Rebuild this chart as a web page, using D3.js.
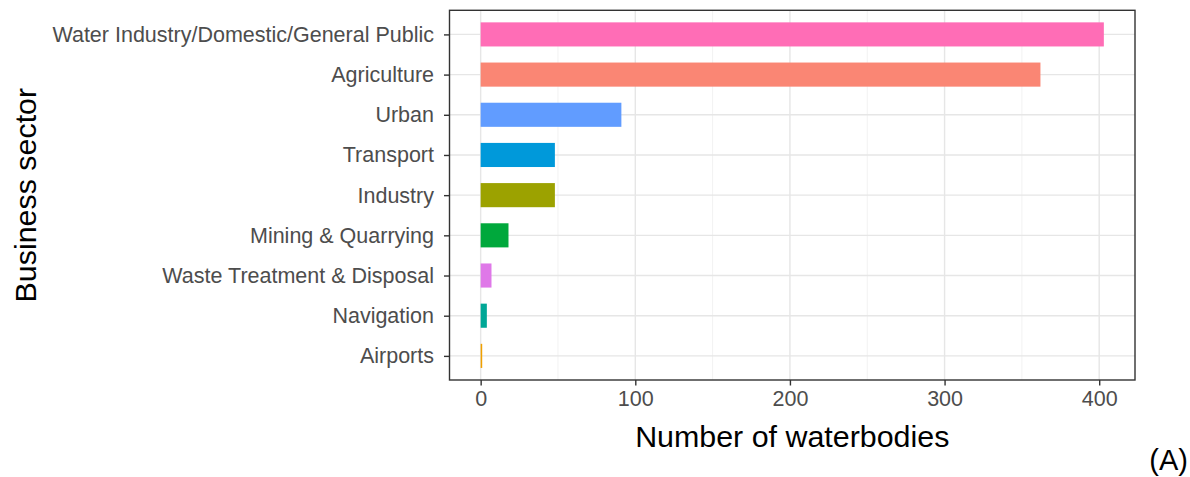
<!DOCTYPE html>
<html>
<head>
<meta charset="utf-8">
<script src="https://cdn.jsdelivr.net/npm/d3@7/dist/d3.min.js"></script>
<style>
  html, body { margin: 0; padding: 0; background: #fff; }
  svg { display: block; font-family: "Liberation Sans", Arial, sans-serif; }
</style>
</head>
<body>
<svg id="chart" width="1190" height="477"></svg>
<script>
// Business sectors, top to bottom
const sectors = [
  "Water Industry/Domestic/General Public",
  "Agriculture",
  "Urban",
  "Transport",
  "Industry",
  "Mining & Quarrying",
  "Waste Treatment & Disposal",
  "Navigation",
  "Airports"
];
// Number of waterbodies per sector
const counts = [403, 362, 91, 48, 48, 18, 7, 4, 1];
// Fill colour per sector
const colours = ["#FF6DB6", "#FA8674", "#619CFF", "#0099DA", "#9CA200", "#00A83C", "#DF78E8", "#00A796", "#F0A000"];
const xTicks = [0, 100, 200, 300, 400];

const svg = d3.select("#chart");
const panel = { left: 449.5, right: 1135, top: 10.3, bottom: 380 };

// Continuous axis padded 5% each side, like ggplot's default expansion
const maxV = d3.max(counts);
const x = d3.scaleLinear()
  .domain([-0.05 * maxV, maxV * 1.05])
  .range([panel.left, panel.right]);

// Discrete axis with 0.6 band padding at the outer ends
const nCat = sectors.length;
const unit = (panel.bottom - panel.top) / (nCat - 1 + 1.2);
const y = d3.scalePoint()
  .domain(sectors)
  .range([panel.top + 0.6 * unit, panel.bottom - 0.6 * unit]);
const barH = 0.6 * unit;

const g = svg.append("g");

// Grid lines: minor then major
const minor = d3.range(50, 450, 100);
g.selectAll(".minor").data(minor).join("line")
  .attr("x1", d => x(d)).attr("x2", d => x(d))
  .attr("y1", panel.top).attr("y2", panel.bottom)
  .attr("stroke", "#EEEEEE").attr("stroke-width", 0.8);
g.selectAll(".majorx").data(xTicks).join("line")
  .attr("x1", d => x(d)).attr("x2", d => x(d))
  .attr("y1", panel.top).attr("y2", panel.bottom)
  .attr("stroke", "#E6E6E6").attr("stroke-width", 1.4);
g.selectAll(".majory").data(sectors).join("line")
  .attr("x1", panel.left).attr("x2", panel.right)
  .attr("y1", d => y(d)).attr("y2", d => y(d))
  .attr("stroke", "#E6E6E6").attr("stroke-width", 1.4);

// Bars
g.selectAll(".bar").data(sectors).join("rect")
  .attr("x", x(0))
  .attr("y", d => y(d) - barH / 2)
  .attr("width", (d, i) => Math.max(1.2, x(counts[i]) - x(0)))
  .attr("height", barH)
  .attr("fill", (d, i) => colours[i]);

// Panel border
g.append("rect")
  .attr("x", panel.left).attr("y", panel.top)
  .attr("width", panel.right - panel.left).attr("height", panel.bottom - panel.top)
  .attr("fill", "none").attr("stroke", "#333333").attr("stroke-width", 1.4);

// X axis
const xAxis = g.append("g")
  .attr("transform", `translate(0,${panel.bottom})`)
  .call(d3.axisBottom(x).tickValues(xTicks).tickSize(5.5).tickPadding(5).tickFormat(d3.format("d")));
xAxis.select(".domain").remove();
xAxis.selectAll("line").attr("stroke", "#333333").attr("stroke-width", 1.4);
xAxis.selectAll("text").attr("fill", "#4D4D4D").style("font-size", "21.5px");

// Y axis
const yAxis = g.append("g")
  .attr("transform", `translate(${panel.left},0)`)
  .call(d3.axisLeft(y).tickSize(5.5).tickPadding(10));
yAxis.select(".domain").remove();
yAxis.selectAll("line").attr("stroke", "#333333").attr("stroke-width", 1.4);
yAxis.selectAll("text").attr("fill", "#4D4D4D").style("font-size", "21.5px");

// Axis titles
svg.append("text")
  .attr("x", (panel.left + panel.right) / 2)
  .attr("y", 447)
  .attr("text-anchor", "middle")
  .style("font-size", "30.4px")
  .attr("fill", "#000")
  .text("Number of waterbodies");

svg.append("text")
  .attr("transform", `translate(36,${(panel.top + panel.bottom) / 2}) rotate(-90)`)
  .attr("text-anchor", "middle")
  .style("font-size", "30.4px")
  .attr("fill", "#000")
  .text("Business sector");

// Panel label
svg.append("text")
  .attr("x", 1188)
  .attr("y", 470)
  .attr("text-anchor", "end")
  .style("font-size", "29px")
  .attr("fill", "#000")
  .text("(A)");
</script>
</body>
</html>
